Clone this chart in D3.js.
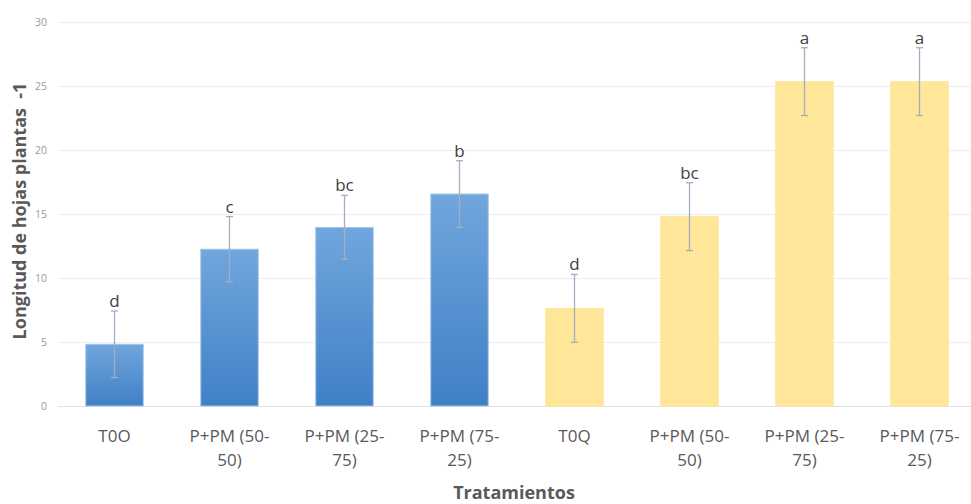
<!DOCTYPE html>
<html>
<head>
<meta charset="utf-8">
<script src="https://cdn.jsdelivr.net/npm/d3@7"></script>
<style>
  html, body { margin: 0; padding: 0; background: #fff; }
  svg { display: block; font-family: "Open Sans", "Noto Sans", sans-serif; }
</style>
</head>
<body>
<svg id="chart" width="971" height="504"></svg>
<script>
// Leaf length per treatment (mean ± error) with significance letters
const categories = ["T0O", "P+PM (50-50)", "P+PM (25-75)", "P+PM (75-25)",
                    "T0Q", "P+PM (50-50)", "P+PM (25-75)", "P+PM (75-25)"];
const groups  = ["O", "O", "O", "O", "Q", "Q", "Q", "Q"];
const means   = [4.82, 12.25, 13.95, 16.56, 7.63, 14.79, 25.34, 25.34];
const errors  = [2.6, 2.55, 2.5, 2.6, 2.65, 2.65, 2.65, 2.65];
const letters = ["d", "c", "bc", "b", "d", "bc", "a", "a"];
const yTicks  = [0, 5, 10, 15, 20, 25, 30];

const svg = d3.select("#chart");
const margin = { left: 57, right: -6, top: 22, bottom: 98 };
const W = 971, H = 504;

const x = d3.scaleBand()
  .domain(d3.range(categories.length))
  .range([margin.left, W - margin.right])
  .paddingInner(0.5)
  .paddingOuter(0.25);

const y = d3.scaleLinear()
  .domain([0, 30])
  .range([H - margin.bottom, margin.top]);

// gradient for the first treatment group
const defs = svg.append("defs");
const blue = defs.append("linearGradient")
  .attr("id", "gradO").attr("x1", 0).attr("y1", 0).attr("x2", 0).attr("y2", 1);
blue.append("stop").attr("offset", "0%").attr("stop-color", "#71a6dd");
blue.append("stop").attr("offset", "100%").attr("stop-color", "#3f80c5");

const fillFor = g => g === "O" ? "url(#gradO)" : "#ffe699";
const strokeFor = g => g === "O" ? "#a7c6e8" : "#ffe699";

// horizontal grid lines
svg.append("g")
  .selectAll("line")
  .data(yTicks)
  .join("line")
  .attr("x1", margin.left + 1)
  .attr("x2", W)
  .attr("y1", d => Math.round(y(d)) + 0.5)
  .attr("y2", d => Math.round(y(d)) + 0.5)
  .attr("stroke", d => d === 0 ? "#e0e0e6" : "#ececf2")
  .attr("stroke-width", 1);

// y axis tick labels
const yAxis = d3.axisLeft(y).tickValues(yTicks).tickSize(0).tickPadding(0);
svg.append("g")
  .attr("transform", `translate(${margin.left - 10},0)`)
  .call(yAxis)
  .call(g => g.select(".domain").remove())
  .call(g => g.selectAll("text")
    .attr("fill", "#9a9a9a")
    .attr("font-size", "10.5px")
    .attr("font-family", "'Open Sans', sans-serif"));

// bars
svg.append("g")
  .selectAll("rect")
  .data(means)
  .join("rect")
  .attr("x", (d, i) => x(i))
  .attr("width", x.bandwidth())
  .attr("y", d => y(d))
  .attr("height", d => y(0) - y(d))
  .attr("fill", (d, i) => fillFor(groups[i]))
  .attr("stroke", (d, i) => strokeFor(groups[i]))
  .attr("stroke-width", 1);

// error bars
const eb = svg.append("g")
  .attr("stroke", "#a3afc0")
  .attr("stroke-width", 1.3);
means.forEach((m, i) => {
  const cx = x(i) + x.bandwidth() / 2;
  const lo = y(m - errors[i]), hi = y(m + errors[i]);
  eb.append("line").attr("x1", cx).attr("x2", cx).attr("y1", lo).attr("y2", hi);
  eb.append("line").attr("x1", cx - 3.5).attr("x2", cx + 3.5).attr("y1", lo).attr("y2", lo);
  eb.append("line").attr("x1", cx - 3.5).attr("x2", cx + 3.5).attr("y1", hi).attr("y2", hi);
});

// significance letters above the error bars
svg.append("g")
  .selectAll("text")
  .data(letters)
  .join("text")
  .attr("x", (d, i) => x(i) + x.bandwidth() / 2)
  .attr("y", (d, i) => y(means[i] + errors[i]) - 4)
  .attr("text-anchor", "middle")
  .attr("font-size", "17px")
  .attr("fill", "#404040")
  .text(d => d);

// category labels, wrapped after the hyphen
const xl = svg.append("g")
  .attr("fill", "#595959")
  .attr("font-size", "17px")
  .attr("text-anchor", "middle");
categories.forEach((c, i) => {
  const cx = x(i) + x.bandwidth() / 2;
  const k = c.indexOf("-");
  const lines = k >= 0 ? [c.slice(0, k + 1), c.slice(k + 1)] : [c];
  const t = xl.append("text").attr("x", cx).attr("y", 442);
  lines.forEach((ln, j) => {
    t.append("tspan").attr("x", cx).attr("dy", j === 0 ? 0 : 24).text(ln);
  });
});

// axis titles
svg.append("text")
  .attr("x", 514)
  .attr("y", 499)
  .attr("text-anchor", "middle")
  .attr("font-size", "18px")
  .attr("font-weight", "bold")
  .attr("fill", "#595959")
  .text("Tratamientos");

svg.append("text")
  .attr("transform", "translate(26,211) rotate(-90)")
  .attr("text-anchor", "middle")
  .attr("font-size", "18px")
  .attr("font-weight", "bold")
  .attr("fill", "#595959")
  .attr("xml:space", "preserve")
  .style("white-space", "pre")
  .text("Longitud de hojas plantas  -1");
</script>
</body>
</html>
